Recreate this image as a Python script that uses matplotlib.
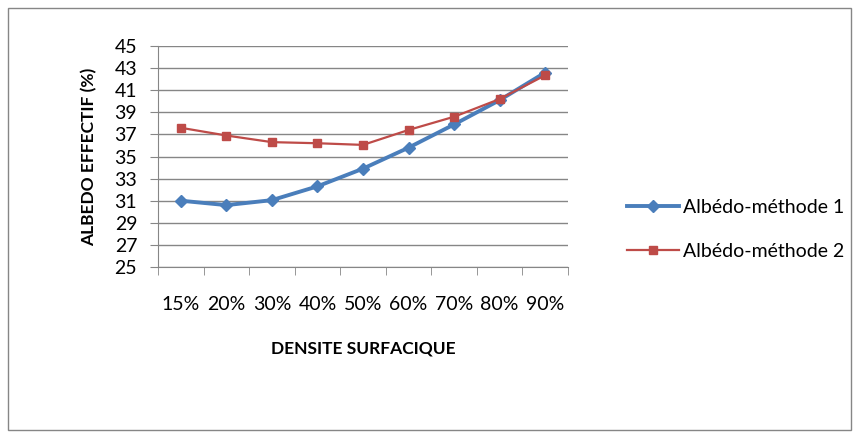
import numpy as np
import matplotlib.pyplot as plt
from matplotlib.patches import Rectangle

plt.rcParams['font.family'] = ['Lato', 'DejaVu Sans']

categories = ['15%', '20%', '30%', '40%', '50%', '60%', '70%', '80%', '90%']
methode_1 = [31.0, 30.6, 31.05, 32.3, 33.9, 35.8, 37.9, 40.1, 42.6]
methode_2 = [37.6, 36.9, 36.3, 36.2, 36.05, 37.4, 38.6, 40.2, 42.35]
y_ticks = list(range(25, 46, 2))

grey = '#868686'

fig = plt.figure(figsize=(8.6, 4.38), dpi=100)
fig.patches.append(Rectangle((8 / 860, 8 / 438), 843 / 860, 422 / 438,
                             transform=fig.transFigure, fill=False,
                             edgecolor=grey, linewidth=1))

ax = fig.add_axes([158 / 860, 1 - 267 / 438, 410 / 860, 221 / 438])
x = np.arange(len(categories))

ax.plot(x, methode_1, color='#4A7EBB', linewidth=2.8, marker='D',
        markersize=6.5, label='Albédo-méthode 1', zorder=3)
ax.plot(x, methode_2, color='#BE4B48', linewidth=1.6, marker='s',
        markersize=6, label='Albédo-méthode 2', zorder=3)

ax.set_xlim(-0.5, len(categories) - 0.5)
ax.set_ylim(25, 45)
ax.set_yticks(y_ticks)
ax.yaxis.grid(True, color=grey, linewidth=1)
ax.set_axisbelow(True)

ax.set_xticks(x)
ax.set_xticklabels(categories, fontsize=14)
ax.set_xticks(np.arange(-0.5, len(categories), 1), minor=True)
ax.tick_params(axis='x', which='major', length=0, pad=21)
ax.tick_params(axis='x', which='minor', length=6, color=grey, direction='out')
ax.tick_params(axis='y', length=6, color=grey, labelsize=14, pad=9)

for side in ['top', 'right']:
    ax.spines[side].set_visible(False)
for side in ['left', 'bottom']:
    ax.spines[side].set_color(grey)

ax.set_xlabel('DENSITE SURFACIQUE', fontsize=12.5, fontweight='bold', labelpad=20)
ax.set_ylabel('ALBEDO EFFECTIF (%)', fontsize=12.5, fontweight='bold', labelpad=12)

ax.legend(loc='center left', bbox_to_anchor=(1.1, 0.17), frameon=False,
          fontsize=14, handlelength=2.7, labelspacing=1.38, handletextpad=0.2)

fig.savefig('out.png', dpi=100)
